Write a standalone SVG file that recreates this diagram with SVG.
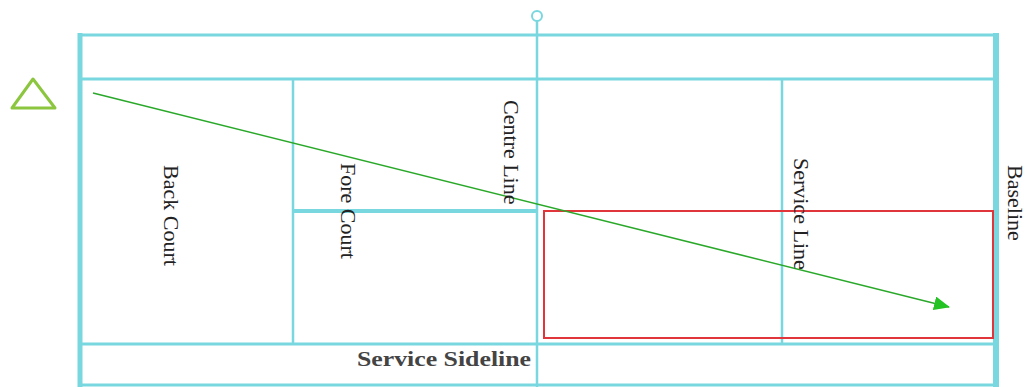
<svg xmlns="http://www.w3.org/2000/svg" width="1028" height="387" viewBox="0 0 1028 387">
<defs>
<style>
.c{stroke:#79d7df;fill:none}
.lbl{font-family:"Liberation Serif","Times New Roman",serif;font-size:22px;fill:#222}
.b{font-weight:bold;fill:#444}
</style>
<marker id="ah" markerWidth="16" markerHeight="14" refX="15" refY="7" orient="auto" markerUnits="userSpaceOnUse">
<path d="M0,0 L16,7 L0,14 Z" fill="#22c322"/>
</marker>
</defs>
<rect width="1028" height="387" fill="#ffffff"/>
<g id="court">
<line class="c" x1="78" y1="35" x2="998" y2="35" stroke-width="3"/>
<line class="c" x1="80" y1="33" x2="80" y2="387" stroke-width="5"/>
<line class="c" x1="996" y1="33" x2="996" y2="387" stroke-width="6"/>
<line class="c" x1="78" y1="385" x2="998" y2="385" stroke-width="3"/>
<line class="c" x1="80" y1="79" x2="996" y2="79" stroke-width="3"/>
<line class="c" x1="80" y1="344" x2="996" y2="344" stroke-width="3"/>
<line class="c" x1="293" y1="79" x2="293" y2="344" stroke-width="2.5"/>
<line class="c" x1="782" y1="79" x2="782" y2="344" stroke-width="2.5"/>
<line class="c" x1="293" y1="211" x2="538" y2="211" stroke-width="4"/>
<line class="c" x1="537" y1="21" x2="537" y2="387" stroke-width="2.5"/>
<circle class="c" cx="537" cy="16" r="5" stroke-width="2"/>
</g>
<g id="service-box">
<rect x="544" y="211" width="449" height="127" fill="none" stroke="#e0353a" stroke-width="2"/>
</g>
<g id="server">
<polygon points="33,79 12,108 55,108" fill="none" stroke="#8cc63f" stroke-width="3" stroke-linejoin="round"/>
</g>
<g id="connectors">
<line x1="93" y1="93" x2="949" y2="307" stroke="#2aa82a" stroke-width="1.6" marker-end="url(#ah)"/>
</g>
<g id="labels">
<text class="lbl" transform="translate(164,165) rotate(90)">Back Court</text>
<text class="lbl" transform="translate(341,163) rotate(90)">Fore Court</text>
<text class="lbl" transform="translate(504,100) rotate(90)">Centre Line</text>
<text class="lbl" transform="translate(794,158) rotate(90)">Service Line</text>
<text class="lbl" transform="translate(1008,165) rotate(90)">Baseline</text>
<text class="lbl b" x="357" y="366" textLength="174" lengthAdjust="spacingAndGlyphs">Service Sideline</text>
</g>
</svg>
